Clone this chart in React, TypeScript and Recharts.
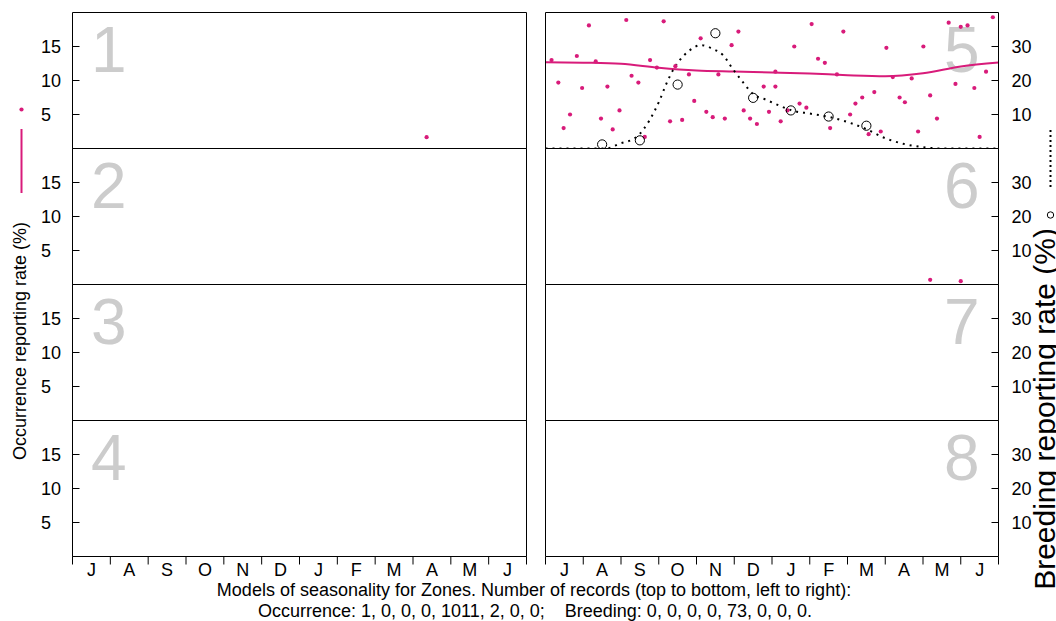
import { ComposedChart, Scatter, Line, XAxis, YAxis } from 'recharts'

const MAGENTA = '#d81b7a'
const ZONE_GREY = '#cccccc'
const FONT = '"Liberation Sans", Arial, sans-serif'

const monthLabels = ['J', 'A', 'S', 'O', 'N', 'D', 'J', 'F', 'M', 'A', 'M', 'J']
const monthEdges = [0, 1, 2, 3, 4, 5, 6, 7, 8, 9, 10, 11, 12]
const occTicks = [0, 5, 10, 15]
const brdTicks = [10, 20, 30]

// zone 1 / zone 6 occurrence records (months from 1 July)
const occ1Month = [9.36]
const occ1Rate = [1.66]
const occ6Month = [10.19, 11.0]
const occ6Rate = [0.69, 0.49]

// zone 5 occurrence records
const occ5Month = [
  0.16, 0.34, 0.48, 0.65, 0.83, 0.97, 1.15, 1.33, 1.47, 1.64,
  1.78, 1.96, 2.14, 2.28, 2.46, 2.63, 2.77, 2.95, 3.13, 3.3,
  3.44, 3.62, 3.8, 3.94, 4.11, 4.26, 4.43, 4.58, 4.75, 4.93,
  5.11, 5.25, 5.42, 5.6, 5.78, 5.92, 6.09, 6.09, 6.23, 6.41,
  6.59, 6.73, 6.91, 7.05, 7.22, 7.4, 7.54, 7.72, 7.89, 8.07,
  8.21, 8.39, 8.56, 8.71, 8.88, 9.03, 9.2, 9.38, 9.52, 9.7,
  9.87, 10.01, 10.19, 10.37, 10.68, 10.86, 11.0, 11.18, 11.36, 11.5,
  11.67, 11.85,
]
const occ5Rate = [
  13.0, 9.7, 3.0, 5.0, 13.6, 8.9, 18.1, 12.8, 4.4, 9.1,
  2.8, 5.6, 18.9, 10.7, 9.7, 1.7, 13.0, 11.9, 18.7, 4.0,
  12.1, 4.2, 10.9, 7.0, 16.2, 5.4, 4.6, 10.9, 4.4, 15.2,
  17.2, 5.6, 4.4, 3.6, 9.1, 5.4, 9.1, 11.3, 4.0, 5.6,
  15.0, 6.6, 6.0, 18.3, 13.2, 12.6, 3.0, 10.9, 17.2, 5.0,
  6.6, 7.5, 2.1, 8.3, 2.5, 14.8, 10.5, 7.5, 6.8, 10.3,
  2.5, 15.0, 7.8, 4.4, 18.5, 9.5, 17.9, 18.1, 8.9, 1.7,
  11.3, 19.3,
]
const occ5ModelMonth = [0, 1, 2, 3, 4, 5, 6, 7, 8, 9, 10, 11, 12]
const occ5ModelRate = [12.7, 12.62, 12.45, 11.87, 11.47, 11.32, 11.18, 11.03, 10.78, 10.63, 11.07, 12.06, 12.65]

// zone 5 breeding records (right axis)
const brd5Month = [1.5, 2.5, 3.5, 4.5, 5.5, 6.5, 7.5, 8.5]
const brd5Rate = [1.2, 2.4, 18.8, 33.9, 14.9, 11.2, 9.4, 6.7]
const brd5ModelMonth = [
  0, 1, 1.6, 1.96, 2.4, 2.75, 3.02, 3.2, 3.37, 3.55, 3.81, 4.12, 4.43, 4.7, 4.96,
  5.23, 5.49, 5.85, 6.2, 6.55, 6.99, 7.5, 8.05, 8.5, 8.94, 9.47, 10.0, 10.5, 12,
]
const brd5ModelRate = [
  0, 0, 0, 1.4, 3.3, 8.2, 14.1, 19.0, 22.9, 25.9, 28.8, 30.4, 29.3, 27.5, 23.4,
  19.5, 16.1, 14.3, 12.6, 11.1, 10.3, 9.3, 7.6, 5.7, 3.3, 1.4, 0.4, 0, 0,
]

const recordsOcc = [1, 0, 0, 0, 1011, 2, 0, 0]
const recordsBrd = [0, 0, 0, 0, 73, 0, 0, 0]

type Pt = { x: number; y: number }
const zip = (xs: number[], ys: number[]): Pt[] => xs.map((x, i) => ({ x, y: ys[i] }))

const smallDot = (p: any) => <circle cx={p.cx} cy={p.cy} r={2.1} fill={MAGENTA} />
const openCircle = (p: any) => <circle cx={p.cx} cy={p.cy} r={4.6} fill="none" stroke="#000" strokeWidth={1} />

const occTick = (p: any) =>
  p.payload.value === 0 ? (
    <g />
  ) : (
    <text x={p.x} y={p.y} dy={6} textAnchor="start" fontSize={18} fill="#000" fontFamily={FONT}>
      {p.payload.value}
    </text>
  )

// month letters sit between the month boundary ticks
const monthTick = (plotWidth: number) => (p: any) => {
  const v = p.payload.value
  if (v >= 12) return <g />
  return (
    <text x={p.x + plotWidth / 24} y={p.y} dy={10} textAnchor="middle" fontSize={18} fill="#000" fontFamily={FONT}>
      {monthLabels[v]}
    </text>
  )
}

interface PanelProps {
  zone: number
  col: number
  row: number
  occ?: Pt[]
  occModel?: Pt[]
  brd?: Pt[]
  brdModel?: Pt[]
}

function Panel({ col, row, occ, occModel, brd, brdModel }: PanelProps) {
  const left = col === 0
  const bottom = row === 3
  const plotWidth = left ? 454 : 453
  return (
    <div style={{ position: 'absolute', left: left ? 0 : 543, top: 10 + row * 136 }}>
      <ComposedChart
        width={left ? 529 : 513}
        height={bottom ? 169 : 141}
        margin={{ top: 1.5, bottom: bottom ? 29.5 : 1.5, left: left ? 0 : 1.5, right: left ? 1.5 : 0 }}
      >
        <XAxis
          xAxisId="b"
          type="number"
          dataKey="x"
          domain={[0, 12]}
          ticks={monthEdges}
          interval={0}
          tick={bottom ? monthTick(plotWidth) : false}
          tickSize={bottom ? 8 : -3}
          tickMargin={1}
          height={1}
          stroke="#000"
          allowDataOverflow
        />
        <XAxis
          xAxisId="t"
          orientation="top"
          type="number"
          dataKey="x"
          domain={[0, 12]}
          ticks={monthEdges}
          interval={0}
          tick={false}
          tickLine={row > 0}
          tickSize={-4}
          height={1}
          stroke="#000"
        />
        <YAxis
          yAxisId="l"
          orientation="left"
          type="number"
          domain={[0, 20]}
          ticks={occTicks}
          interval={0}
          width={left ? 72.5 : 1}
          tickSize={-7}
          tickMargin={38.5}
          tick={left ? occTick : false}
          stroke="#000"
          allowDataOverflow
        />
        <YAxis
          yAxisId="r"
          orientation="right"
          type="number"
          domain={[0, 40]}
          ticks={brdTicks}
          interval={0}
          width={left ? 1 : 57.5}
          tickSize={-7}
          tickMargin={20}
          tick={left ? false : { fontSize: 18, fill: '#000', fontFamily: FONT }}
          stroke="#000"
          allowDataOverflow
        />
        {occModel && (
          <Line
            data={occModel}
            dataKey="y"
            xAxisId="b"
            yAxisId="l"
            type="monotone"
            stroke={MAGENTA}
            strokeWidth={2}
            dot={false}
            isAnimationActive={false}
          />
        )}
        {brdModel && (
          <Line
            data={brdModel}
            dataKey="y"
            xAxisId="b"
            yAxisId="r"
            type="monotone"
            stroke="#000"
            strokeWidth={2}
            strokeDasharray="2 5"
            dot={false}
            isAnimationActive={false}
          />
        )}
        {occ && (
          <Scatter data={occ} dataKey="y" xAxisId="b" yAxisId="l" shape={smallDot} isAnimationActive={false} />
        )}
        {brd && (
          <Scatter data={brd} dataKey="y" xAxisId="b" yAxisId="r" shape={openCircle} isAnimationActive={false} />
        )}
      </ComposedChart>
    </div>
  )
}

const zones = [1, 2, 3, 4, 5, 6, 7, 8]

export default function App() {
  return (
    <div
      style={{
        position: 'absolute',
        left: 0,
        top: 0,
        width: 1056,
        height: 621,
        background: '#fff',
        fontFamily: FONT,
        overflow: 'hidden',
      }}
    >
      <svg width={1056} height={621} style={{ position: 'absolute', left: 0, top: 0 }} fontFamily={FONT}>
        {zones.map((z) => {
          const col = z <= 4 ? 0 : 1
          const row = (z - 1) % 4
          return (
            <text key={z} x={col === 0 ? 91 : 944} y={72 + row * 136} fontSize={64} fill={ZONE_GREY}>
              {z}
            </text>
          )
        })}
        {/* occurrence legend + title */}
        <circle cx={21.5} cy={109.5} r={2.1} fill={MAGENTA} />
        <line x1={21.5} x2={21.5} y1={129} y2={193} stroke={MAGENTA} strokeWidth={2} />
        <text transform="translate(26,222) rotate(-90)" textAnchor="end" fontSize={18} fill="#000">
          Occurrence reporting rate (%)
        </text>
        {/* breeding legend + title (runs off the right edge) */}
        <line x1={1050.5} x2={1050.5} y1={130} y2={190} stroke="#000" strokeWidth={2} strokeDasharray="2 3" />
        <circle cx={1050.5} cy={215} r={3.2} fill="none" stroke="#000" strokeWidth={1} />
        <text transform="translate(1055,228) rotate(-90)" textAnchor="end" fontSize={30} fill="#000">
          Breeding reporting rate (%)
        </text>
        {/* caption */}
        <text x={534} y={596} textAnchor="middle" fontSize={18} fill="#000">
          Models of seasonality for Zones. Number of records (top to bottom, left to right):
        </text>
        <text x={535} y={617} textAnchor="middle" fontSize={18} fill="#000" xmlSpace="preserve" style={{ whiteSpace: 'pre' }}>
          {`Occurrence: ${recordsOcc.join(', ')};    Breeding: ${recordsBrd.join(', ')}.`}
        </text>
      </svg>
      <Panel zone={1} col={0} row={0} occ={zip(occ1Month, occ1Rate)} />
      <Panel zone={2} col={0} row={1} />
      <Panel zone={3} col={0} row={2} />
      <Panel zone={4} col={0} row={3} />
      <Panel
        zone={5}
        col={1}
        row={0}
        occ={zip(occ5Month, occ5Rate)}
        occModel={zip(occ5ModelMonth, occ5ModelRate)}
        brd={zip(brd5Month, brd5Rate)}
        brdModel={zip(brd5ModelMonth, brd5ModelRate)}
      />
      <Panel zone={6} col={1} row={1} occ={zip(occ6Month, occ6Rate)} />
      <Panel zone={7} col={1} row={2} />
      <Panel zone={8} col={1} row={3} />
    </div>
  )
}
